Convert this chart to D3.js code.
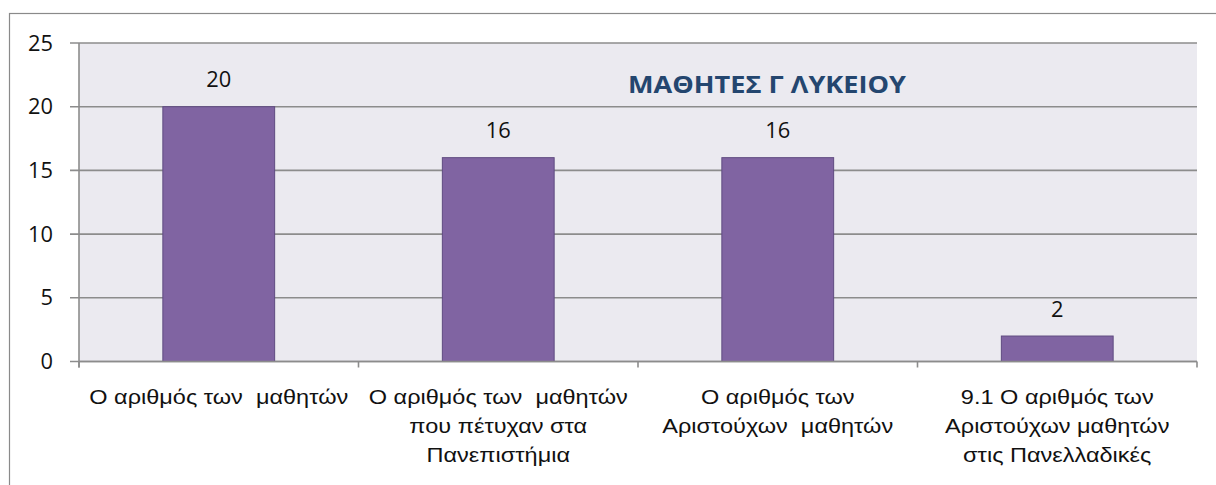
<!DOCTYPE html>
<html>
<head>
<meta charset="utf-8">
<script src="https://cdn.jsdelivr.net/npm/d3@7"></script>
<style>
  html, body { margin: 0; padding: 0; background: #fff; }
  text { white-space: pre; }
</style>
</head>
<body>
<div id="chart"></div>
<script>
// chart data
const categories = [
    ["Ο αριθμός των  μαθητών"],
    ["Ο αριθμός των  μαθητών", "που πέτυχαν στα", "Πανεπιστήμια"],
    ["Ο αριθμός των", "Αριστούχων  μαθητών"],
    ["9.1 Ο αριθμός των", "Αριστούχων μαθητών", "στις Πανελλαδικές"]
];
const values = [20, 16, 16, 2];
const yTicks = [0, 5, 10, 15, 20, 25];
const title = "ΜΑΘΗΤΕΣ Γ ΛΥΚΕΙΟΥ";

const width = 1216, height = 485;
const plot = { left: 79, right: 1197, top: 43, bottom: 361.5 };
const numFont = "'Open Sans', 'Noto Sans', sans-serif";
const catFont = "'Liberation Sans', Arial, sans-serif";
const stretch = 1.12; // the source picture is widened a bit

let svg = d3.select("#chart")
    .append("svg")
    .attr("width", width)
    .attr("height", height);

// outer chart border
svg.append("rect")
    .attr("x", 9.5).attr("y", 13.5)
    .attr("width", 1230).attr("height", 500)
    .attr("fill", "#fff")
    .attr("stroke", "#8a8a8a")
    .attr("stroke-width", 1.2);

let x = d3.scaleBand()
    .domain(d3.range(values.length))
    .range([plot.left, plot.right])
    .paddingInner(0).paddingOuter(0);

let y = d3.scaleLinear()
    .domain([0, 25])
    .range([plot.bottom, plot.top]);

// plot background
svg.append("rect")
    .attr("x", plot.left).attr("y", plot.top)
    .attr("width", plot.right - plot.left)
    .attr("height", plot.bottom - plot.top)
    .attr("fill", "#ebeaf0");

// gridlines + y ticks
let grid = svg.append("g");
grid.selectAll("line")
    .data(yTicks)
    .enter().append("line")
    .attr("x1", plot.left - 9).attr("x2", plot.right)
    .attr("y1", d => y(d)).attr("y2", d => y(d))
    .attr("stroke", "#8c8c8c")
    .attr("stroke-width", 1.6);

grid.selectAll("text")
    .data(yTicks)
    .enter().append("text")
    .attr("transform", d => `translate(53,${y(d)}) scale(1.04,1)`)
    .attr("dy", "0.36em")
    .attr("text-anchor", "end")
    .attr("font-family", numFont)
    .attr("font-size", 21)
    .attr("fill", "#111")
    .text(d => d);

// bars
let bw = x.bandwidth() * 0.4;
svg.append("g").selectAll("rect")
    .data(values)
    .enter().append("rect")
    .attr("x", (d, i) => x(i) + (x.bandwidth() - bw) / 2)
    .attr("y", d => y(d))
    .attr("width", bw)
    .attr("height", d => y(0) - y(d))
    .attr("fill", "#8064a2")
    .attr("stroke", "#5f4b80")
    .attr("stroke-width", 1);

// value labels
svg.append("g").selectAll("text")
    .data(values)
    .enter().append("text")
    .attr("transform", (d, i) => `translate(${x(i) + x.bandwidth() / 2},${y(d) - 27}) scale(1.04,1)`)
    .attr("dy", "0.36em")
    .attr("text-anchor", "middle")
    .attr("font-family", numFont)
    .attr("font-size", 21)
    .attr("fill", "#111")
    .text(d => d);

// axes lines
svg.append("line")
    .attr("x1", plot.left).attr("x2", plot.left)
    .attr("y1", plot.top).attr("y2", plot.bottom + 6)
    .attr("stroke", "#8c8c8c").attr("stroke-width", 1.6);
svg.append("line")
    .attr("x1", plot.left).attr("x2", plot.right)
    .attr("y1", plot.bottom).attr("y2", plot.bottom)
    .attr("stroke", "#8c8c8c").attr("stroke-width", 1.6);

let bounds = d3.range(values.length + 1).map(i => i < values.length ? x(i) : plot.right);
svg.append("g").selectAll("line")
    .data(bounds)
    .enter().append("line")
    .attr("x1", d => d).attr("x2", d => d)
    .attr("y1", plot.bottom).attr("y2", plot.bottom + 6)
    .attr("stroke", "#8c8c8c").attr("stroke-width", 1.6);

// category labels
let cats = svg.append("g").selectAll("text")
    .data(categories)
    .enter().append("text")
    .attr("transform", (d, i) => `translate(${x(i) + x.bandwidth() / 2},396) scale(${stretch},1)`)
    .attr("text-anchor", "middle")
    .attr("font-family", catFont)
    .attr("font-size", 21)
    .attr("fill", "#111");

cats.selectAll("tspan")
    .data(d => d)
    .enter().append("tspan")
    .attr("x", 0)
    .attr("y", (d, j) => j * 29)
    .attr("dy", "0.36em")
    .text(d => d);

// title
svg.append("text")
    .attr("transform", "translate(767,84) scale(1.13,1)")
    .attr("dy", "0.36em")
    .attr("text-anchor", "middle")
    .attr("font-family", numFont)
    .attr("font-weight", "bold")
    .attr("font-size", 24)
    .attr("fill", "#24466f")
    .text(title);
</script>
</body>
</html>
